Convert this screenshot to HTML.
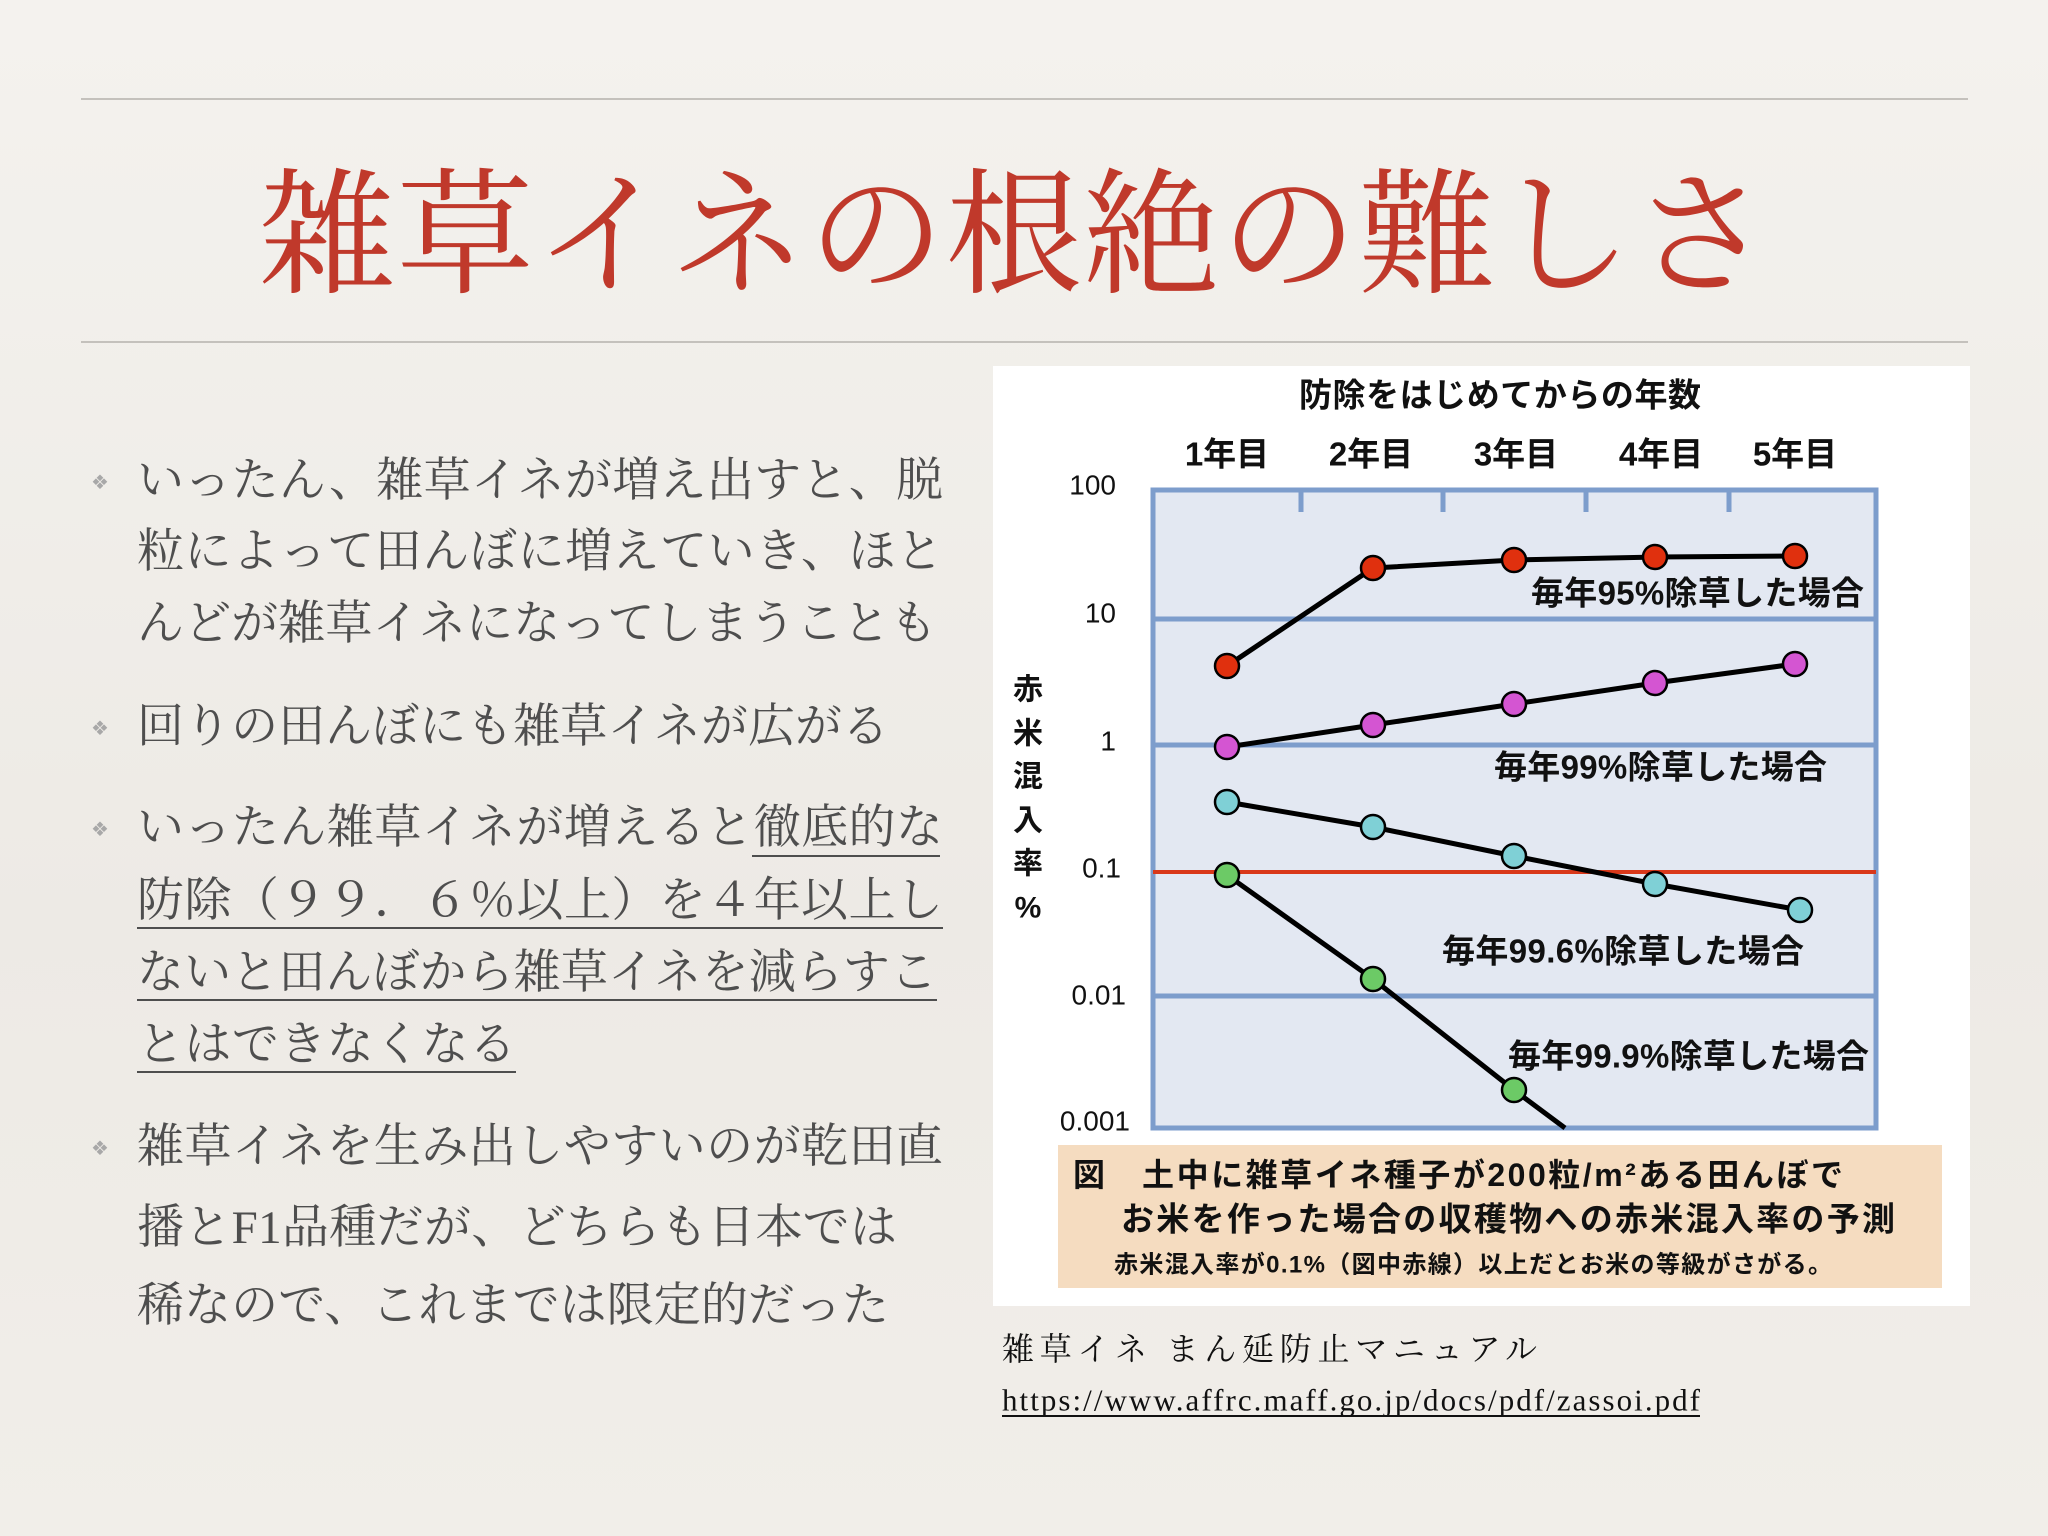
<!DOCTYPE html>
<html><head><meta charset="utf-8"><style>
html,body{margin:0;padding:0;width:2048px;height:1536px;overflow:hidden;background:#f1eee9;}
svg{display:block}
</style></head><body>
<svg width="2048" height="1536" xmlns="http://www.w3.org/2000/svg">
<defs><linearGradient id="bg" x1="0" y1="0" x2="0" y2="1"><stop offset="0" stop-color="#f4f2ee"/><stop offset="0.6" stop-color="#edeae5"/><stop offset="1" stop-color="#f1eee9"/></linearGradient></defs>
<rect width="2048" height="1536" fill="url(#bg)"/>
<line x1="81" y1="99" x2="1968" y2="99" stroke="#c4c1bc" stroke-width="2"/>
<line x1="81" y1="342" x2="1968" y2="342" stroke="#c4c1bc" stroke-width="2"/>
<text x="259" y="224" dominant-baseline="central" font-family="'Noto Serif CJK JP','Noto Serif CJK SC',serif" font-size="137" fill="#c0392b" textLength="1511">雑草イネの根絶の難しさ</text>

<g font-family="'Liberation Serif','Noto Serif CJK JP','Noto Serif CJK SC',serif" font-size="47" fill="#4e4e4e" dominant-baseline="central">
<text x="137" y="481" textLength="806">いったん、雑草イネが増え出すと、脱</text>
<text x="137" y="552" textLength="806">粒によって田んぼに増えていき、ほと</text>
<text x="137" y="624" textLength="800">んどが雑草イネになってしまうことも</text>
<text x="137" y="727" textLength="752">回りの田んぼにも雑草イネが広がる</text>
<text x="137" y="828" textLength="806">いったん雑草イネが増えると徹底的な</text>
<text x="137" y="901" textLength="806">防除（９９．６％以上）を４年以上し</text>
<text x="137" y="973" textLength="800">ないと田んぼから雑草イネを減らすこ</text>
<text x="137" y="1045" textLength="379">とはできなくなる</text>
<text x="137" y="1147" textLength="806">雑草イネを生み出しやすいのが乾田直</text>
<text x="137" y="1228" textLength="760">播とF1品種だが、どちらも日本では</text>
<text x="137" y="1306" textLength="752">稀なので、これまでは限定的だった</text>
</g>
<g stroke="#4e4e4e" stroke-width="2">
<line x1="752" y1="856" x2="940" y2="856"/>
<line x1="137" y1="928" x2="943" y2="928"/>
<line x1="137" y1="1000" x2="937" y2="1000"/>
<line x1="137" y1="1072" x2="516" y2="1072"/>
</g>
<g font-family="'Liberation Sans','DejaVu Sans',sans-serif" font-size="20" fill="#a8a8a8" text-anchor="middle" dominant-baseline="central">
<text x="100" y="483">❖</text><text x="100" y="729">❖</text><text x="100" y="830">❖</text><text x="100" y="1149">❖</text>
</g>

<!-- chart -->
<rect x="993" y="366" width="977" height="940" fill="#ffffff"/>
<rect x="1153" y="490" width="723" height="638" fill="#e3e8f2"/>
<g stroke="#7d9dcc" stroke-width="5" fill="none">
<rect x="1153" y="490" width="723" height="638"/>
<line x1="1153" y1="619" x2="1876" y2="619"/>
<line x1="1153" y1="745" x2="1876" y2="745"/>
<line x1="1153" y1="996" x2="1876" y2="996"/>
<line x1="1301" y1="490" x2="1301" y2="512"/>
<line x1="1443" y1="490" x2="1443" y2="512"/>
<line x1="1586" y1="490" x2="1586" y2="512"/>
<line x1="1729" y1="490" x2="1729" y2="512"/>
</g>
<line x1="1153" y1="872" x2="1876" y2="872" stroke="#d9381a" stroke-width="4"/>
<g stroke="#000" stroke-width="5" fill="none">
<polyline points="1227,666 1373,568 1514,560 1655,557 1795,556"/>
<polyline points="1227,747 1373,725 1514,704 1655,683 1795,664"/>
<polyline points="1227,802 1373,827 1514,856 1655,884 1800,910"/>
<polyline points="1227,875 1373,979 1514,1090 1565,1128"/>
</g>
<g stroke="#000" stroke-width="2.5">
<g fill="#e0300e"><circle cx="1227" cy="666" r="12"/><circle cx="1373" cy="568" r="12"/><circle cx="1514" cy="560" r="12"/><circle cx="1655" cy="557" r="12"/><circle cx="1795" cy="556" r="12"/></g>
<g fill="#d455d2"><circle cx="1227" cy="747" r="12"/><circle cx="1373" cy="725" r="12"/><circle cx="1514" cy="704" r="12"/><circle cx="1655" cy="683" r="12"/><circle cx="1795" cy="664" r="12"/></g>
<g fill="#7fd0d6"><circle cx="1227" cy="802" r="12"/><circle cx="1373" cy="827" r="12"/><circle cx="1514" cy="856" r="12"/><circle cx="1655" cy="884" r="12"/><circle cx="1800" cy="910" r="12"/></g>
<g fill="#6cca66"><circle cx="1227" cy="875" r="12"/><circle cx="1373" cy="979" r="12"/><circle cx="1514" cy="1090" r="12"/></g>
</g>
<g font-family="'Liberation Sans','Noto Sans CJK JP',sans-serif" fill="#111" font-weight="bold" dominant-baseline="central">
<text x="1500" y="395" font-size="33" text-anchor="middle" textLength="402">防除をはじめてからの年数</text>
<g font-size="33" text-anchor="middle">
<text x="1227" y="454">1年目</text><text x="1371" y="454">2年目</text><text x="1516" y="454">3年目</text><text x="1661" y="454">4年目</text><text x="1795" y="454">5年目</text>
</g>
<g font-size="28" text-anchor="end" font-weight="normal">
<text x="1116" y="485">100</text><text x="1116" y="613">10</text><text x="1116" y="741">1</text><text x="1121" y="868">0.1</text><text x="1126" y="995">0.01</text><text x="1130" y="1121">0.001</text>
</g>
<g font-size="30" text-anchor="middle">
<text x="1028" y="690">赤</text><text x="1028" y="734">米</text><text x="1028" y="777">混</text><text x="1028" y="821">入</text><text x="1028" y="864">率</text><text x="1028" y="908">%</text>
</g>
<g font-size="33">
<text x="1531" y="593" textLength="333">毎年95%除草した場合</text>
<text x="1494" y="767" textLength="333">毎年99%除草した場合</text>
<text x="1442" y="951" textLength="362">毎年99.6%除草した場合</text>
<text x="1508" y="1056" textLength="361">毎年99.9%除草した場合</text>
</g>
</g>
<rect x="1058" y="1145" width="884" height="143" fill="#f5dcc0"/>
<g font-family="'Liberation Sans','Noto Sans CJK JP',sans-serif" fill="#111" font-weight="bold" dominant-baseline="central">
<text x="1073" y="1175" font-size="32" textLength="770">図　土中に雑草イネ種子が200粒/m²ある田んぼで</text>
<text x="1121" y="1219" font-size="33" textLength="774">お米を作った場合の収穫物への赤米混入率の予測</text>
<text x="1114" y="1265" font-size="24" textLength="718">赤米混入率が0.1%（図中赤線）以上だとお米の等級がさがる。</text>
</g>
<g font-family="'Liberation Serif','Noto Serif CJK JP',serif" fill="#111" dominant-baseline="central">
<text x="1002" y="1349" font-size="32" textLength="535">雑草イネ まん延防止マニュアル</text>
<text x="1002" y="1400" font-size="31" textLength="698">https://www.affrc.maff.go.jp/docs/pdf/zassoi.pdf</text>
</g>
<line x1="1002" y1="1416" x2="1700" y2="1416" stroke="#111" stroke-width="2"/>
</svg>
</body></html>
